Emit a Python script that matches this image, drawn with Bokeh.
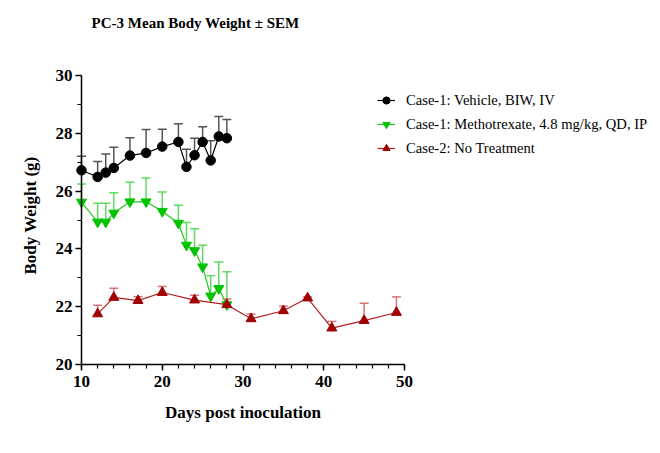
from bokeh.plotting import figure
from bokeh.models import (ColumnDataSource, Range1d, SingleIntervalTicker, Legend, LegendItem,
                          Whisker, TeeHead, Label)
from bokeh.embed import file_html
from bokeh.resources import INLINE

# ---- data ----
days_a = [10, 12, 13, 14, 16, 18, 20, 22, 23, 24, 25, 26, 27, 28]
vehicle_mean = [26.72, 26.49, 26.64, 26.80, 27.23, 27.32, 27.54, 27.70, 26.84, 27.24, 27.70, 27.06, 27.89, 27.83]
vehicle_sem = [0.49, 0.53, 0.64, 0.72, 0.62, 0.81, 0.60, 0.63, 0.61, 0.59, 0.53, 0.68, 0.69, 0.65]
mtx_mean = [25.62, 24.93, 24.93, 25.24, 25.63, 25.63, 25.30, 24.89, 24.13, 23.94, 23.38, 22.37, 22.63, 22.07]
mtx_sem = [0.63, 0.65, 0.65, 0.70, 0.68, 0.82, 0.67, 0.62, 0.78, 0.76, 0.75, 0.70, 0.92, 1.14]
days_b = [12, 14, 17, 20, 24, 28, 31, 35, 38, 41, 45, 49]
notx_mean = [21.75, 22.32, 22.21, 22.49, 22.23, 22.07, 21.58, 21.86, 22.30, 21.26, 21.52, 21.80]
notx_sem = [0.30, 0.32, 0.13, 0.21, 0.17, 0.20, 0.17, 0.16, 0.04, 0.23, 0.60, 0.54]
series_names = ["Case-1: Vehicle, BIW, IV",
                "Case-1: Methotrexate, 4.8 mg/kg, QD, IP",
                "Case-2: No Treatment"]
title_text = "PC-3 Mean Body Weight \u00b1 SEM"
x_label = "Days post inoculation"
y_label = "Body Weight (g)"
x_min, x_max = 10, 50
y_min, y_max = 20, 30

FONT = "Liberation Serif"
W, H = 660, 453
LEFT, BOTTOM = 81, 89          # where the axes meet, in pixels from left / bottom
PX_PER_DAY = 323 / (x_max - x_min)
PX_PER_G = 289 / (y_max - y_min)

def dx(px):   # canvas pixel x -> data x
    return x_min + (px - LEFT) / PX_PER_DAY

def dy(py):   # canvas pixel y (from top) -> data y
    return y_min + (H - BOTTOM - py) / PX_PER_G

# frame fills the whole canvas; axes are fixed at the data origin and bounded
p = figure(width=W, height=H, output_backend="svg", toolbar_location=None,
           x_range=Range1d(dx(0), dx(W)), y_range=Range1d(dy(H), dy(0)),
           min_border=0)
p.outline_line_color = None
p.xgrid.visible = False
p.ygrid.visible = False
p.background_fill_color = "white"
p.border_fill_color = "white"

p.xaxis.ticker = SingleIntervalTicker(interval=10, num_minor_ticks=5)
p.yaxis.ticker = SingleIntervalTicker(interval=2, num_minor_ticks=2)
p.xaxis.bounds = (x_min, x_max)
p.yaxis.bounds = (y_min, y_max)
p.xaxis.fixed_location = y_min
p.yaxis.fixed_location = x_min
for ax in (p.xaxis[0], p.yaxis[0]):
    ax.axis_line_width = 1.5
    ax.axis_line_color = "black"
    ax.major_tick_line_width = 1.5
    ax.minor_tick_line_width = 1.2
    ax.major_tick_out = 6
    ax.major_tick_in = 0
    ax.minor_tick_out = 4
    ax.minor_tick_in = 0
    ax.major_label_text_font = FONT
    ax.major_label_text_font_style = "bold"
    ax.major_label_text_font_size = "17px"
    ax.major_label_text_color = "black"
p.xaxis.major_label_standoff = 5
p.yaxis.major_label_standoff = 3

# axis titles
p.add_layout(Label(x=(x_min + x_max) / 2, y=dy(412), text=x_label,
                   text_font=FONT, text_font_style="bold", text_font_size="17px",
                   text_align="center", text_baseline="middle", text_color="black"))
p.add_layout(Label(x=dx(30), y=dy(215), text=y_label, angle=90, angle_units="deg",
                   text_font=FONT, text_font_style="bold", text_font_size="17px",
                   text_align="center", text_baseline="middle", text_color="black"))
# chart title
p.add_layout(Label(x=dx(195), y=dy(22), text=title_text,
                   text_font=FONT, text_font_style="bold", text_font_size="15px",
                   text_align="center", text_baseline="middle", text_color="black"))

def add_series(days, mean, sem, line_color, marker, mcolor, msize, ecolor, ealpha):
    upper = [m + s for m, s in zip(mean, sem)]
    src = ColumnDataSource(dict(x=days, y=mean, upper=upper))
    w = Whisker(base="x", upper="upper", lower="y", source=src, dimension="height",
                line_color=ecolor, line_alpha=ealpha, line_width=1.5,
                upper_head=TeeHead(size=9, line_color=ecolor, line_alpha=ealpha, line_width=1.5),
                lower_head=None)
    p.add_layout(w)
    ln = p.line("x", "y", source=src, line_color=line_color, line_width=1.2)
    sc = p.scatter("x", "y", source=src, marker=marker, size=msize,
                   fill_color=mcolor, line_color=mcolor)
    return [ln, sc]

r1 = add_series(days_a, vehicle_mean, vehicle_sem, "black", "circle", "black", 9.5, "#444444", 0.9)
r2 = add_series(days_a, mtx_mean, mtx_sem, "#1ec81e", "inverted_triangle", "#00c400", 10, "#3cd23c", 0.8)
r3 = add_series(days_b, notx_mean, notx_sem, "#b01e1e", "triangle", "#a00000", 10, "#cc5555", 0.8)

# legend: bottom-left corner given in screen pixels from the frame's bottom-left
legend = Legend(items=[LegendItem(label=series_names[0], renderers=r1),
                       LegendItem(label=series_names[1], renderers=r2),
                       LegendItem(label=series_names[2], renderers=r3)],
                location=(377, H - 158), orientation="vertical",
                padding=0, margin=0, spacing=4,
                glyph_width=18, glyph_height=20, label_height=20, label_standoff=11,
                label_text_font=FONT, label_text_font_size="14.6px", label_text_color="black",
                background_fill_alpha=0, border_line_color=None)
p.add_layout(legend)

open("out.html", "w").write(file_html(p, INLINE))
